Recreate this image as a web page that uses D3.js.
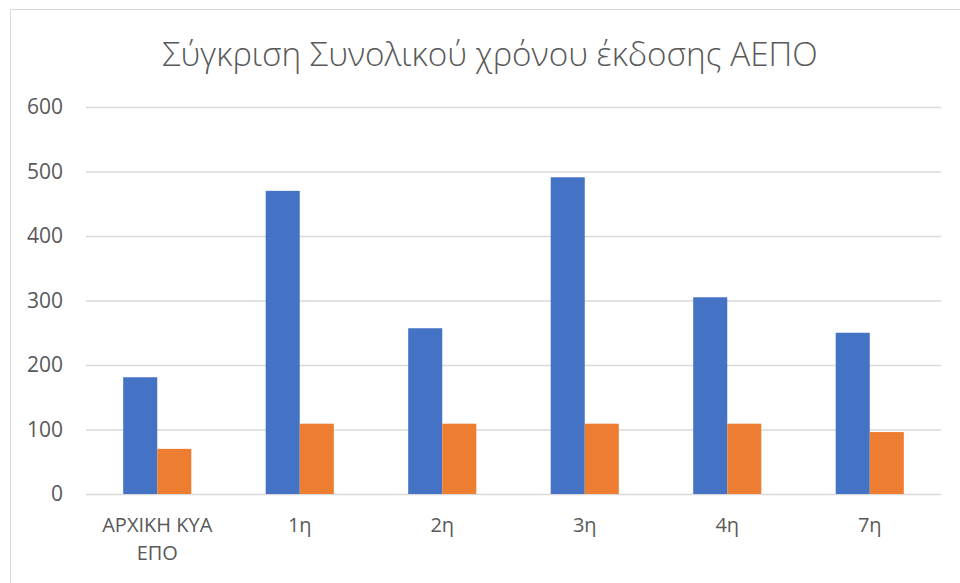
<!DOCTYPE html>
<html>
<head>
<meta charset="utf-8">
<script src="https://cdn.jsdelivr.net/npm/d3@7"></script>
<style>
    body { margin: 0; background: #fff; }
    #chart-area { width: 960px; height: 583px; }
    text { font-family: "Open Sans", "Noto Sans", sans-serif; fill: #595959; }
</style>
</head>
<body>
<div id="chart-area"></div>
<script>

let chartTitle = "Σύγκριση Συνολικού χρόνου έκδοσης ΑΕΠΟ";
let categories = ["ΑΡΧΙΚΗ ΚΥΑ ΕΠΟ", "1η", "2η", "3η", "4η", "7η"];
let seriesA = [181, 470, 257, 491, 305, 250];
let seriesB = [70, 109, 109, 109, 109, 96];
let yTicks = [0, 100, 200, 300, 400, 500, 600];
let colors = ["#4472C4", "#ED7D31"];

class GroupedBarVis {
    constructor(parentElement) {
        this.parentElement = parentElement;
        this.initVis();
    }

    initVis() {
        let vis = this;

        vis.margin = {top: 107, right: 19, bottom: 89, left: 86};
        vis.width = 960 - vis.margin.left - vis.margin.right;
        vis.height = 583 - vis.margin.top - vis.margin.bottom;

        vis.root = d3.select("#" + vis.parentElement)
            .append("svg")
            .attr("width", 960)
            .attr("height", 583);

        // outer chart frame
        vis.root.append("rect")
            .attr("x", 10.5)
            .attr("y", 9.5)
            .attr("width", 960)
            .attr("height", 600)
            .attr("fill", "none")
            .attr("stroke", "#d9d9d9");

        let title = vis.root.append("text")
            .attr("x", 490)
            .attr("y", 66)
            .attr("text-anchor", "middle")
            .style("font-size", "30px")
            .style("font-weight", 300)
            .text(chartTitle);
        // fit to the width of the original title
        let w = title.node().getComputedTextLength();
        title.style("font-size", (30 * 656 / w) + "px");

        vis.svg = vis.root.append("g")
            .attr("transform", "translate(" + vis.margin.left + "," + vis.margin.top + ")");

        vis.x = d3.scaleBand()
            .domain(categories)
            .range([0, vis.width]);

        vis.x1 = d3.scaleBand()
            .domain([0, 1])
            .range([0, vis.x.bandwidth() * 0.478])
            .padding(0);

        vis.y = d3.scaleLinear()
            .domain([0, 600])
            .range([vis.height, 0]);

        // gridlines
        vis.svg.append("g")
            .attr("class", "grid")
            .call(d3.axisLeft(vis.y).tickValues(yTicks).tickSize(-vis.width).tickFormat(""))
            .call(g => g.select(".domain").remove())
            .call(g => g.selectAll("line").attr("stroke", "#d9d9d9").attr("stroke-width", 1.3));

        // y labels
        vis.svg.append("g")
            .call(d3.axisLeft(vis.y).tickValues(yTicks).tickSize(0).tickPadding(23))
            .call(g => g.select(".domain").remove())
            .call(g => g.selectAll("text").style("font-size", "21px").attr("fill", "#595959"));

        vis.wrangleData();
    }

    wrangleData() {
        let vis = this;
        vis.displayData = categories.map((c, i) => ({
            category: c,
            values: [seriesA[i], seriesB[i]]
        }));
        vis.updateVis();
    }

    updateVis() {
        let vis = this;
        let offset = (vis.x.bandwidth() - vis.x1.range()[1]) / 2;

        let groups = vis.svg.selectAll(".cat")
            .data(vis.displayData)
            .enter().append("g")
            .attr("class", "cat")
            .attr("transform", d => "translate(" + (vis.x(d.category) + offset) + ",0)");

        groups.selectAll("rect")
            .data(d => d.values)
            .enter().append("rect")
            .attr("x", (d, i) => vis.x1(i))
            .attr("width", vis.x1.bandwidth())
            .attr("y", d => vis.y(d))
            .attr("height", d => vis.height - vis.y(d))
            .attr("fill", (d, i) => colors[i]);

        // category labels, long one wrapped in two lines
        let labels = vis.svg.append("g")
            .attr("transform", "translate(0," + vis.height + ")");

        labels.selectAll("text")
            .data(categories)
            .enter().append("text")
            .attr("x", d => vis.x(d) + vis.x.bandwidth() / 2)
            .attr("y", 38)
            .attr("text-anchor", "middle")
            .style("font-size", "20px")
            .each(function(d) {
                let words = d.split(" ");
                let t = d3.select(this);
                if (words.length > 2) {
                    t.append("tspan").attr("x", t.attr("x")).text(words.slice(0, 2).join(" "));
                    t.append("tspan").attr("x", t.attr("x")).attr("dy", 28).text(words.slice(2).join(" "));
                } else {
                    t.text(d);
                }
            });
    }
}

new GroupedBarVis("chart-area");

</script>
</body>
</html>
